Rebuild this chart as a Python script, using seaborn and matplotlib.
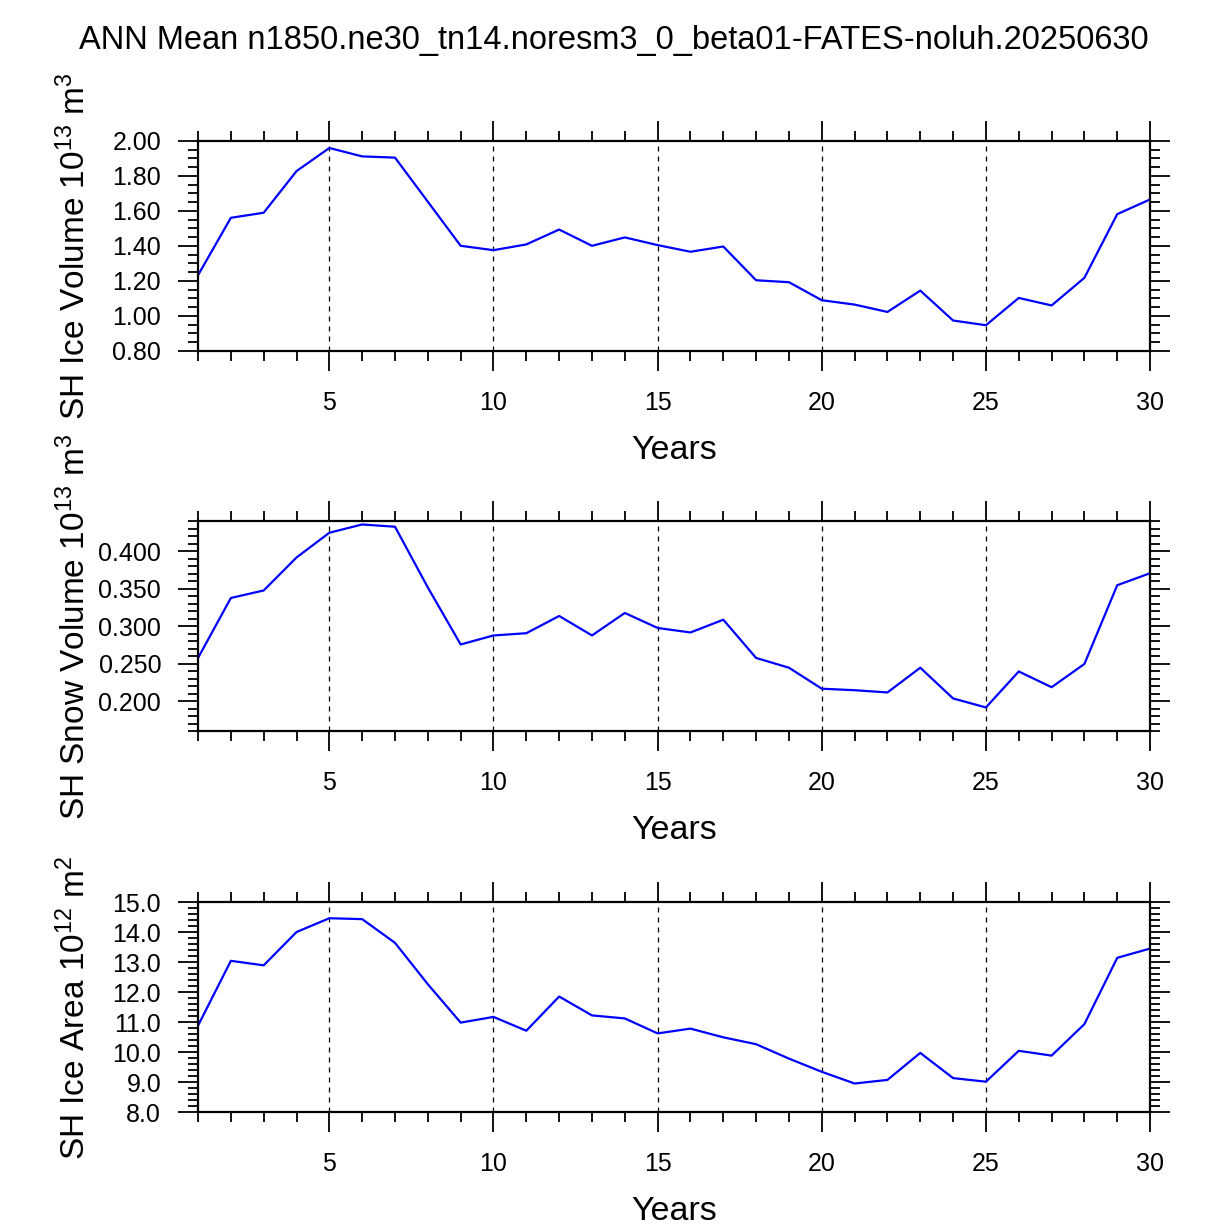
import matplotlib
matplotlib.use('Agg')
from matplotlib import pyplot as plt
from matplotlib.ticker import MultipleLocator, FormatStrFormatter
import seaborn as sns
import pandas as pd

# datos (medias anuales, 30 anos)
years = list(range(1, 31))
ice_volume = [1.233, 1.561, 1.590, 1.828, 1.960, 1.912, 1.905, 1.653, 1.401, 1.376,
              1.409, 1.494, 1.401, 1.449, 1.405, 1.367, 1.397, 1.204, 1.193, 1.090,
              1.065, 1.023, 1.145, 0.974, 0.947, 1.103, 1.060, 1.218, 1.582, 1.666]
snow_volume = [0.258, 0.338, 0.348, 0.392, 0.425, 0.436, 0.433, 0.352, 0.276, 0.288,
               0.291, 0.314, 0.288, 0.318, 0.298, 0.292, 0.309, 0.258, 0.245, 0.217,
               0.215, 0.212, 0.245, 0.204, 0.192, 0.240, 0.219, 0.250, 0.355, 0.371]
ice_area = [10.89, 13.05, 12.90, 14.01, 14.47, 14.44, 13.65, 12.27, 10.99, 11.18,
            10.72, 11.86, 11.23, 11.13, 10.63, 10.79, 10.50, 10.27, 9.79, 9.35,
            8.96, 9.08, 9.98, 9.14, 9.02, 10.05, 9.89, 10.94, 13.15, 13.46]

titulo = 'ANN Mean n1850.ne30_tn14.noresm3_0_beta01-FATES-noluh.20250630'
ylabels = ['SH Ice Volume 10$^{13}$ m$^{3}$',
           'SH Snow Volume 10$^{13}$ m$^{3}$',
           'SH Ice Area 10$^{12}$ m$^{2}$']

df = pd.DataFrame({'Years': years, 'vol': ice_volume, 'snow': snow_volume, 'area': ice_area})

sns.set_style('ticks')
plt.rcParams['font.family'] = ['Liberation Sans', 'DejaVu Sans']
plt.rcParams['mathtext.fontset'] = 'custom'
plt.rcParams['mathtext.rm'] = 'Liberation Sans'
plt.rcParams['mathtext.it'] = 'Liberation Sans'
plt.rcParams['text.color'] = 'black'
plt.rcParams['axes.labelcolor'] = 'black'
plt.rcParams['xtick.color'] = 'black'
plt.rcParams['ytick.color'] = 'black'

fig = plt.figure(figsize=(12.27, 12.25), dpi=100)

# (columna, ylim, major, minor, formato, bottom)
paneles = [
    ('vol', (0.8, 2.0), 0.2, 0.05, '%.2f', 0.7135),
    ('snow', (0.16, 0.44), 0.05, 0.01, '%.3f', 0.4029),
    ('area', (8.0, 15.0), 1.0, 0.2, '%.1f', 0.092),
]

for i, (col, ylim, maj, mnr, fmt, bottom) in enumerate(paneles):
    ax = fig.add_axes([0.1614, bottom, 0.7759, 0.1714])
    sns.lineplot(x='Years', y=col, data=df, ax=ax, color='blue', linewidth=1.6)
    ax.set_xlim(1, 30)
    ax.set_ylim(*ylim)
    ax.xaxis.set_major_locator(MultipleLocator(5))
    ax.xaxis.set_minor_locator(MultipleLocator(1))
    ax.yaxis.set_major_locator(MultipleLocator(maj))
    ax.yaxis.set_minor_locator(MultipleLocator(mnr))
    ax.yaxis.set_major_formatter(FormatStrFormatter(fmt))
    for x in [5, 10, 15, 20, 25]:
        ax.axvline(x, color='black', linestyle=(0, (4, 4)), linewidth=0.9, zorder=0)
    ax.tick_params(which='both', direction='out', top=True, right=True,
                   width=1.3, labelsize=18, color='black', labelcolor='black')
    ax.tick_params(which='major', length=14.5, pad=12)
    ax.tick_params(axis='x', which='major', pad=14)
    ax.tick_params(which='minor', length=7)
    for s in ax.spines.values():
        s.set_linewidth(1.6)
        s.set_color('black')
    ax.set_xlabel('Years', fontsize=24.5)
    ax.xaxis.set_label_coords(0.5, -0.398)
    ax.set_ylabel(ylabels[i], fontsize=24)
    ax.yaxis.set_label_coords(-0.111, 0.5)

fig.text(0.5, 1 - 40 / 1225, titulo, ha='center', va='center', fontsize=23.5, color='black')

plt.savefig('out.png', dpi=100)
